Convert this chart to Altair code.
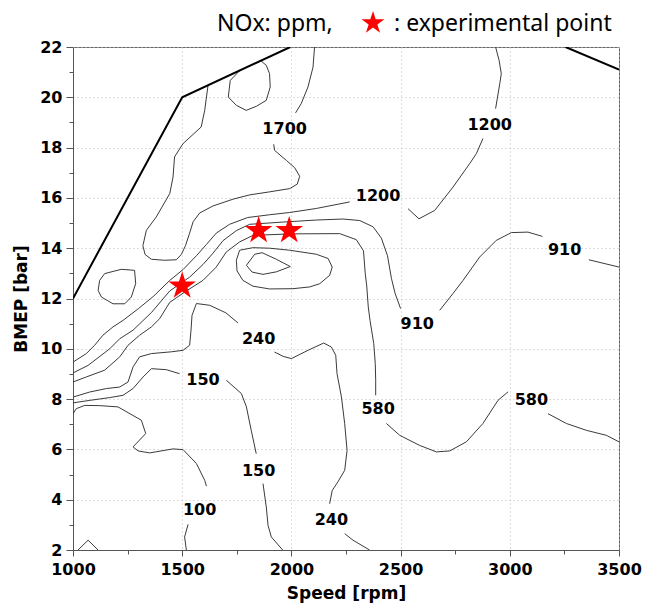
import altair as alt
import pandas as pd

# ---------------- data (speed [rpm], BMEP [bar]) ----------------
boundary_left = [(1000, 12.0), (1500, 20.0), (1995, 22.0)]
boundary_right = [(3255, 22.0), (3500, 21.1)]

c1700_a = [(1618, 20.46), (1603, 19.48), (1587, 18.82), (1504, 18.16), (1465, 17.63), (1458, 16.83),
           (1443, 16.17), (1381, 15.24), (1336, 14.71), (1320, 14.1), (1330, 13.75), (1359, 13.56),
           (1420, 13.52), (1473, 13.54), (1496, 13.75), (1515, 14.1), (1534, 14.6), (1550, 15.05),
           (1580, 15.4), (1641, 15.68), (1733, 15.95), (1809, 16.12), (1900, 16.24), (1992, 16.37),
           (2027, 16.55), (2038, 16.86), (2015, 17.2), (1977, 17.49), (1923, 17.89), (1919, 18.13)]
c1700_b = [(2019, 19.38), (2045, 19.75), (2076, 20.41), (2099, 21.2), (2106, 22.0)]
c1700_top = [(1763, 21.06), (1720, 20.67), (1711, 20.01), (1748, 19.68), (1793, 19.48), (1839, 19.64),
             (1885, 19.88), (1903, 20.41), (1900, 20.94), (1885, 21.27), (1862, 21.44)]
loop_left = [(1122, 12.72), (1145, 12.99), (1221, 13.16), (1282, 13.12), (1287, 12.59), (1267, 12.06),
             (1237, 11.79), (1183, 11.79), (1130, 12.06), (1115, 12.32), (1122, 12.72)]

c1200_a = [(1000, 9.47), (1061, 9.81), (1099, 10.14), (1137, 10.54), (1183, 10.87), (1229, 11.13),
           (1300, 11.6), (1370, 12.1), (1443, 12.72), (1504, 13.15), (1565, 13.7), (1611, 14.15),
           (1656, 14.6), (1717, 14.95), (1800, 15.22), (1900, 15.33), (1992, 15.42), (2114, 15.58),
           (2267, 15.84)]
c1200_b = [(2534, 15.57), (2584, 15.17), (2656, 15.5), (2740, 16.43), (2816, 17.36), (2847, 17.76),
           (2877, 18.36)]
c1200_c = [(2935, 19.55), (2954, 20.54), (2961, 20.94), (2951, 21.47), (2935, 22.0)]

c910_a = [(1000, 9.04), (1069, 9.34), (1168, 10.0), (1214, 10.4), (1275, 10.74), (1360, 11.45),
          (1443, 12.3), (1534, 12.85), (1595, 13.35), (1641, 13.8), (1687, 14.3), (1748, 14.7),
          (1809, 14.95), (1962, 15.04), (2114, 15.12), (2236, 15.16), (2313, 15.1), (2374, 14.85),
          (2412, 14.4), (2440, 13.7), (2458, 12.8), (2475, 12.2), (2500, 11.6)]
c910_b = [(2679, 11.53), (2740, 12.2), (2786, 12.72), (2862, 13.65), (2938, 14.31), (3007, 14.62),
          (3083, 14.64), (3149, 14.47)]
c910_c = [(3362, 13.54), (3500, 13.25)]

c580_a = [(1000, 8.68), (1061, 8.88), (1145, 9.15), (1214, 9.68), (1252, 10.14), (1305, 10.54),
          (1359, 10.87), (1397, 11.2), (1443, 11.85), (1519, 12.3), (1595, 12.72), (1656, 13.25),
          (1702, 13.85), (1763, 14.25), (1824, 14.51), (2000, 14.57), (2221, 14.58), (2297, 14.34),
          (2330, 13.9), (2338, 13.0), (2345, 12.5), (2352, 11.66), (2360, 11.13), (2377, 10.21),
          (2384, 9.41), (2386, 8.75), (2386, 8.15)]
c580_b = [(2435, 7.03), (2496, 6.56), (2587, 6.16), (2664, 5.90), (2725, 5.94), (2801, 6.30),
          (2877, 7.03), (2946, 7.95), (2992, 8.29)]
c580_c = [(3175, 7.42), (3259, 7.03), (3350, 6.76), (3442, 6.56), (3500, 6.30)]

island_outer = [(1763, 13.92), (1824, 14.02), (1900, 14.0), (1992, 13.92), (2114, 13.76), (2168, 13.59),
                (2187, 13.25), (2175, 12.92), (2130, 12.59), (2084, 12.46), (2007, 12.39), (1900, 12.38),
                (1824, 12.49), (1778, 12.72), (1751, 13.10), (1748, 13.52), (1763, 13.92)]
island_inner = [(1794, 13.32), (1832, 13.76), (1866, 13.82), (1931, 13.56), (1995, 13.27), (1931, 13.06),
                (1870, 12.96), (1820, 13.05), (1794, 13.32)]

c240_a = [(1000, 8.08), (1076, 8.28), (1153, 8.42), (1214, 8.48), (1252, 8.68), (1275, 9.28),
          (1305, 9.68), (1359, 9.81), (1450, 9.88), (1504, 9.94), (1534, 10.14), (1540, 10.7),
          (1545, 11.33), (1565, 11.8), (1626, 11.73), (1700, 11.43), (1755, 11.03)]
c240_b = [(1923, 9.87), (1962, 9.70), (2000, 9.61), (2076, 9.94), (2148, 10.23), (2183, 10.07),
          (2203, 9.74), (2209, 9.01), (2229, 8.09), (2244, 7.02), (2255, 5.96), (2244, 5.17),
          (2213, 4.71), (2187, 4.37), (2175, 3.84)]
c240_c = [(2244, 2.65), (2282, 2.39), (2358, 2.0)]

c150_a = [(1000, 7.85), (1077, 7.95), (1168, 8.06), (1229, 8.15), (1275, 8.42), (1321, 8.88),
          (1359, 9.21), (1427, 9.17), (1488, 9.01)]
c150_b = [(1702, 8.75), (1771, 8.22), (1794, 7.69), (1816, 6.76), (1839, 5.83)]
c150_c = [(1870, 4.64), (1885, 3.71), (1893, 2.98), (1908, 2.52), (1960, 2.0)]

c100_a = [(1000, 7.42), (1015, 7.62), (1054, 7.75), (1122, 7.74), (1206, 7.69), (1313, 7.16),
          (1333, 6.63), (1275, 6.10), (1298, 5.94), (1351, 5.86), (1458, 6.02), (1504, 5.99),
          (1565, 5.44), (1603, 4.77), (1611, 4.54)]
c100_b = [(1527, 3.02), (1511, 2.52), (1519, 2.0)]
c_small = [(1023, 2.0), (1069, 2.39), (1115, 2.0)]

label_text = ["1700", "1200", "1200", "910", "910", "240", "150", "580", "580", "150", "100", "240"]
label_speed = [1969, 2908, 2397, 3251, 2576, 1850, 1595, 2397, 3099, 1850, 1580, 2183]
label_bmep = [18.75, 18.89, 16.08, 13.92, 10.98, 10.38, 8.75, 7.62, 7.95, 5.15, 3.61, 3.18]

star_speed = [1500, 1850, 1990]
star_bmep = [12.5, 14.7, 14.7]

x_ticks = [1000, 1250, 1500, 1750, 2000, 2250, 2500, 2750, 3000, 3250, 3500]
y_ticks = list(range(2, 23))

# ---------------- build tables ----------------
contours = {
    "c1700_a": c1700_a, "c1700_b": c1700_b, "c1700_top": c1700_top, "loop_left": loop_left,
    "c1200_a": c1200_a, "c1200_b": c1200_b, "c1200_c": c1200_c,
    "c910_a": c910_a, "c910_b": c910_b, "c910_c": c910_c,
    "c580_a": c580_a, "c580_b": c580_b, "c580_c": c580_c,
    "island_outer": island_outer, "island_inner": island_inner,
    "c240_a": c240_a, "c240_b": c240_b, "c240_c": c240_c,
    "c150_a": c150_a, "c150_b": c150_b, "c150_c": c150_c,
    "c100_a": c100_a, "c100_b": c100_b, "c_small": c_small,
}
boundaries = {"bl": boundary_left, "br": boundary_right}


def to_df(d):
    rows = []
    for name, pts in d.items():
        for i, (s, b) in enumerate(pts):
            rows.append({"seg": name, "i": i, "speed": s, "bmep": b})
    return pd.DataFrame(rows)


df_c = to_df(contours)
df_b = to_df(boundaries)
df_lab = pd.DataFrame({"speed": label_speed, "bmep": label_bmep, "text": label_text})
df_star = pd.DataFrame({"speed": star_speed, "bmep": star_bmep})

STAR = ("M0,-1L0.2245,-0.309L0.9511,-0.309L0.3633,0.118L0.5878,0.809L0,0.382"
        "L-0.5878,0.809L-0.3633,0.118L-0.9511,-0.309L-0.2245,-0.309Z")

FONT = "DejaVu Sans"

x_enc = alt.X(
    "speed:Q",
    scale=alt.Scale(domain=[1000, 3500], nice=False, zero=False),
    axis=alt.Axis(
        values=x_ticks, format="d", title="Speed [rpm]",
        labelExpr="datum.value % 500 === 0 ? datum.label : ''",
        labelFont=FONT, labelFontSize=16, labelFontWeight="bold", labelColor="black",
        labelPadding=5, labelOverlap=False, labelFlush=False,
        titleFont=FONT, titleFontSize=17, titleFontWeight="bold", titleColor="black",
        titlePadding=8,
        tickSize={"condition": {"test": "datum.value % 500 === 0", "value": 6}, "value": 4},
        tickColor="#555", domainColor="#555",
        grid=True, gridDash=[1, 3], gridColor="#bdbdbd",
        gridOpacity={"condition": {"test": "datum.value % 500 === 0", "value": 1}, "value": 0},
    ),
)
y_enc = alt.Y(
    "bmep:Q",
    scale=alt.Scale(domain=[2, 22], nice=False, zero=False),
    axis=alt.Axis(
        values=y_ticks, format="d", title="BMEP [bar]",
        labelExpr="datum.value % 2 === 0 ? datum.label : ''",
        labelFont=FONT, labelFontSize=16, labelFontWeight="bold", labelColor="black",
        labelPadding=4, labelOverlap=False, labelFlush=False,
        titleFont=FONT, titleFontSize=17, titleFontWeight="bold", titleColor="black",
        titlePadding=9,
        tickSize={"condition": {"test": "datum.value % 2 === 0", "value": 7}, "value": 4},
        tickColor="#555", domainColor="#555",
        grid=True, gridDash=[1, 3], gridColor="#bdbdbd",
        gridOpacity={"condition": {"test": "datum.value % 2 === 0", "value": 1}, "value": 0},
    ),
)

contour_layer = alt.Chart(df_c).mark_line(color="#3a3a3a", strokeWidth=1, clip=True).encode(
    x=x_enc, y=y_enc, detail="seg:N", order="i:Q"
)
boundary_layer = alt.Chart(df_b).mark_line(color="black", strokeWidth=2, clip=True).encode(
    x=x_enc, y=y_enc, detail="seg:N", order="i:Q"
)
label_layer = alt.Chart(df_lab).mark_text(
    font=FONT, fontSize=16, fontWeight="bold", color="black", align="center", baseline="middle"
).encode(x=x_enc, y=y_enc, text="text:N")
star_layer = alt.Chart(df_star).mark_point(
    shape=STAR, filled=True, color="red", size=841, opacity=1, strokeWidth=0
).encode(x=x_enc, y=y_enc)

hdr = pd.DataFrame({"a": [1]})
hdr_text1 = alt.Chart(hdr).mark_text(
    text="NOx: ppm,", font="Noto Sans", fontSize=23, color="black", align="left", baseline="middle"
).encode(x=alt.value(144), y=alt.value(-23))
hdr_star = alt.Chart(hdr).mark_point(
    shape=STAR, filled=True, color="red", size=576, opacity=1, strokeWidth=0
).encode(x=alt.value(300), y=alt.value(-24))
hdr_text2 = alt.Chart(hdr).mark_text(
    text=": experimental point", font="Noto Sans", fontSize=23, color="black", align="left",
    baseline="middle"
).encode(x=alt.value(321), y=alt.value(-23))

chart = alt.layer(
    contour_layer, boundary_layer, label_layer, star_layer, hdr_text1, hdr_star, hdr_text2
).properties(
    width=546, height=503,
    autosize=alt.AutoSizeParams(type="none"),
    padding={"left": 73, "top": 47, "right": 27, "bottom": 55},
).configure_view(stroke="#666", strokeWidth=1)

chart.save("out.html", embed_options={"renderer": "svg", "actions": False})
